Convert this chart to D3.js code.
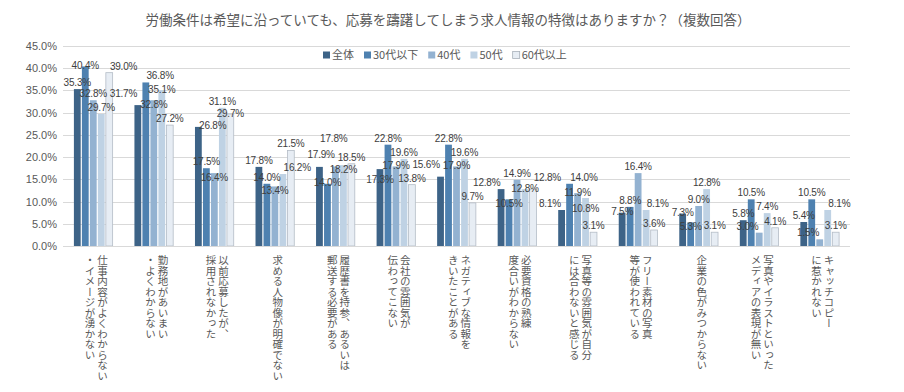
<!DOCTYPE html>
<html>
<head>
<meta charset="utf-8">
<script src="https://cdn.jsdelivr.net/npm/d3@7"></script>
<style>
  body { margin: 0; background: #fff; }
  text { font-family: "Noto Sans CJK JP", "Noto Sans", sans-serif; }
</style>
</head>
<body>
<script>
// data
const title = "労働条件は希望に沿っていても、応募を躊躇してしまう求人情報の特徴はありますか？（複数回答）"
const series = ["全体", "30代以下", "40代", "50代", "60代以上"]
const colors = ["#3d6387", "#4e81b0", "#93b2d1", "#bfd2e4", "#e7edf4"]
const categories = [
  ["仕事内容がよくわからない", "・イメージが湧かない"],
  ["勤務地があいまい", "・よくわからない"],
  ["以前応募したが、", "採用されなかった"],
  ["求める人物像が明確でない"],
  ["履歴書を持参、あるいは", "郵送する必要がある"],
  ["会社の雰囲気が", "伝わってこない"],
  ["ネガティブな情報を", "きいたことがある"],
  ["必要資格の熟練", "度合いがわからない"],
  ["写真等の雰囲気が自分", "には合わないと感じる"],
  ["フリー素材の写真", "等が使われている"],
  ["企業の色がみつからない"],
  ["写真やイラストといった", "メディアの表現が無い"],
  ["キャッチコピー", "に惹かれない"],
]
const zentai = [35.3, 31.7, 26.8, 17.8, 17.8, 17.3, 15.6, 12.8, 8.1, 7.5, 7.3, 5.8, 5.4]
const age30 = [40.4, 36.8, 17.5, 14.0, 14.0, 22.8, 22.8, 10.5, 14.0, 8.8, 5.3, 10.5, 10.5]
const age40 = [32.8, 32.8, 16.4, 13.4, 17.9, 17.9, 17.9, 14.9, 11.9, 16.4, 9.0, 3.0, 1.5]
const age50 = [29.7, 35.1, 31.1, 16.2, 18.2, 19.6, 19.6, 12.8, 10.8, 8.1, 12.8, 7.4, 8.1]
const age60 = [39.0, 27.2, 29.7, 21.5, 18.5, 13.8, 9.7, 12.8, 3.1, 3.6, 3.1, 4.1, 3.1]
const values = [zentai, age30, age40, age50, age60]
const yTicks = [0, 5, 10, 15, 20, 25, 30, 35, 40, 45]

const dimensions = {
  width: 904,
  height: 392,
  margin: { top: 46, right: 54, bottom: 146, left: 63 },
}
dimensions.boundedWidth = dimensions.width - dimensions.margin.left - dimensions.margin.right
dimensions.boundedHeight = dimensions.height - dimensions.margin.top - dimensions.margin.bottom

const wrapper = d3.select("body")
  .append("svg")
    .attr("width", dimensions.width)
    .attr("height", dimensions.height)

wrapper.append("text")
    .attr("x", 448)
    .attr("y", 25)
    .attr("text-anchor", "middle")
    .attr("fill", "#595959")
    .style("font-size", "13.5px")
    .text(title)

const bounds = wrapper.append("g")
    .attr("transform", `translate(${dimensions.margin.left},${dimensions.margin.top})`)

// scales
const xScale = d3.scaleBand()
  .domain(d3.range(categories.length))
  .range([0, dimensions.boundedWidth])
  .paddingInner(0.36)
  .paddingOuter(0.18)

const xSub = d3.scaleBand()
  .domain(d3.range(series.length))
  .range([0, xScale.bandwidth()])
  .paddingInner(0.15)

const yScale = d3.scaleLinear()
  .domain([0, 45])
  .range([dimensions.boundedHeight, 0])

// grid
bounds.append("g")
  .selectAll("line")
  .data(yTicks.slice(1))
  .join("line")
    .attr("x1", 0)
    .attr("x2", dimensions.boundedWidth)
    .attr("y1", d => Math.round(yScale(d)) + 0.5)
    .attr("y2", d => Math.round(yScale(d)) + 0.5)
    .attr("stroke", "#d9d9d9")

// y axis
const yAxis = bounds.append("g")
  .call(d3.axisLeft(yScale).tickValues(yTicks).tickFormat(d => d.toFixed(1) + "%").tickSize(0).tickPadding(6))
yAxis.select(".domain").remove()
yAxis.selectAll("text")
    .attr("fill", "#595959")
    .style("font-family", "'Liberation Sans', Arial, sans-serif")
    .style("font-size", "11px")

// bars
const groups = bounds.selectAll(".group")
  .data(categories)
  .join("g")
    .attr("class", "group")
    .attr("transform", (d, i) => `translate(${xScale(i)},0)`)

const barData = (d, i) => series.map((s, j) => ({ s: j, v: values[j][i] }))

groups.selectAll("rect")
  .data(barData)
  .join("rect")
    .attr("x", d => xSub(d.s))
    .attr("width", xSub.bandwidth())
    .attr("y", d => yScale(d.v))
    .attr("height", d => dimensions.boundedHeight - yScale(d.v))
    .attr("fill", d => colors[d.s])
    .attr("stroke", d => d.s == 4 ? "#b4bcc6" : "none")
    .attr("stroke-width", 0.8)

// x axis line
bounds.append("line")
    .attr("x1", 0)
    .attr("x2", dimensions.boundedWidth)
    .attr("y1", dimensions.boundedHeight + 0.5)
    .attr("y2", dimensions.boundedHeight + 0.5)
    .attr("stroke", "#d9d9d9")

// data labels: tallest first, the rest look for a free spot nearby (checked over all groups)
const tries = [[0, 0], [-0.5, 0], [0.5, 0]]
d3.range(1, 10).forEach(n => [-n, n].forEach(k => [0, -0.5, 0.5].forEach(f => tries.push([f, k]))))
const placed = []
const labelLayer = bounds.append("g")
categories.forEach((cat, i) => {
  const items = barData(cat, i).map(d => ({
    ...d,
    cx: xScale(i) + xSub(d.s) + xSub.bandwidth() / 2,
    y: yScale(d.v) - 3,
  }))
  items.slice().sort((a, b) => a.y - b.y).forEach(it => {
    const t = labelLayer.append("text")
        .attr("text-anchor", "middle")
        .attr("fill", "#404040")
        .style("font-family", "'Liberation Sans', Arial, sans-serif")
        .style("font-size", "10px")
        .style("letter-spacing", "-0.2px")
        .text(it.v.toFixed(1) + "%")
    const box = t.node().getBBox()
    const w = box.width + 1
    const h = box.height
    let best = null
    for (const [f, k] of tries) {
      const x = it.cx + f * w
      const y = it.y + k * h * 0.5
      if (y > dimensions.boundedHeight - 2 || y < 18) continue
      const hit = placed.some(p => Math.abs(p.x - x) < (p.w + w) / 2 && Math.abs(p.y - y) < h)
      if (!hit) { best = { x, y }; break }
    }
    if (!best) best = { x: it.cx, y: it.y }
    placed.push({ x: best.x, y: best.y, w })
    t.attr("x", best.x).attr("y", best.y)
  })
})

// category labels, vertical
const lineGap = 12.5
groups.each(function(lines) {
  const cx = xScale.bandwidth() / 2 + 3
  d3.select(this).selectAll(".cat")
    .data(lines)
    .join("text")
      .attr("class", "cat")
      .attr("x", (d, k) => cx + ((lines.length - 1) / 2 - k) * lineGap)
      .attr("y", dimensions.boundedHeight + 9)
      .attr("fill", "#595959")
      .style("writing-mode", "vertical-rl")
      .style("font-size", "10.5px")
      .text(d => d)
})

// legend
const legend = wrapper.append("g")
    .attr("transform", "translate(323,55)")
let lx = 0
series.forEach((s, j) => {
  legend.append("rect")
      .attr("x", lx)
      .attr("y", -3.5)
      .attr("width", 7)
      .attr("height", 7)
      .attr("fill", colors[j])
      .attr("stroke", j == 4 ? "#a8b0ba" : "none")
      .attr("stroke-width", 0.8)
  const t = legend.append("text")
      .attr("x", lx + 9)
      .attr("y", 4)
      .attr("fill", "#595959")
      .style("font-size", "11px")
      .text(s)
  lx += 9 + t.node().getComputedTextLength() + 10
})
</script>
</body>
</html>
